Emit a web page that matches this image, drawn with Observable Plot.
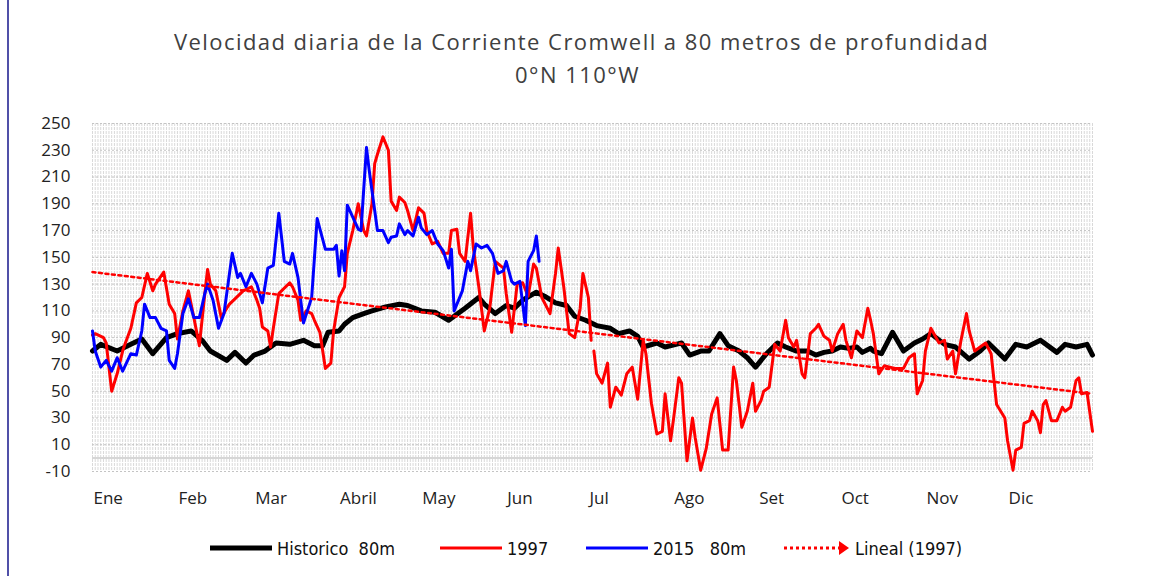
<!DOCTYPE html>
<html>
<head>
<meta charset="utf-8">
<script src="https://cdn.jsdelivr.net/npm/d3@7"></script>
<script src="https://cdn.jsdelivr.net/npm/@observablehq/plot@0.6"></script>
<style>
  html, body { margin: 0; padding: 0; background: #fff; }
  #wrap { position: relative; width: 1155px; height: 576px; overflow: hidden; background: #fff; }
  #border { position: absolute; left: 7px; top: 0; width: 2px; height: 576px; background: #5050a8; }
  .title { position: absolute; left: 0; width: 1155px; text-align: center; font-family: "Open Sans", sans-serif;
           font-size: 22px; color: #404040; letter-spacing: 1.45px; line-height: 1; }
  #chart { position: absolute; left: 0; top: 95px; }
  .leg { position: absolute; top: 536px; height: 24px; display: flex; align-items: center;
         font-family: "Liberation Sans Narrow", "DejaVu Sans Condensed", sans-serif; font-size: 18px; color: #111; white-space: pre; }
  .leg svg { margin-right: 5px; }
</style>
</head>
<body>
<div id="wrap">
  <div id="border"></div>
  <div class="title" style="top:30px;left:4px">Velocidad diaria de la Corriente Cromwell a 80 metros de profundidad</div>
  <div class="title" style="top:63px">0°N 110°W</div>
  <div id="chart"></div>
  <div id="legend"></div>
</div>
<script>
// ---- axis labels ----
const months = ["Ene","Feb","Mar","Abril","May","Jun","Jul","Ago","Set","Oct","Nov","Dic"];
const monthStarts = [0,31,59,90,120,151,181,212,243,273,304,334];
const yTicks = [-10,10,30,50,70,90,110,130,150,170,190,210,230,250];

// ---- Historico 80m (day of year, cm/s) ----
const histDays = [0,3,9,14,18,22,27,31,36,40,43,49,52,56,59,63,67,72,77,81,84,86,90,92,95,99,102,107,112,115,120,125,130,132,136,141,143,147,151,154,157,162,165,169,173,176,180,184,189,192,196,199,201,206,209,213,215,218,222,225,229,232,236,239,242,246,250,253,257,261,264,267,270,273,276,279,281,284,285,288,292,296,300,303,306,311,315,320,324,327,330,333,337,341,346,352,355,359,363,365];
const histValues = [80,85,80,85,89,78,90,93,95,88,80,73,79,71,77,80,86,85,88,84,84,94,95,100,105,108,110,113,115,114,110,109,103,106,112,120,115,108,114,112,118,124,121,116,114,106,103,99,97,93,95,91,83,86,83,85,86,77,80,80,93,84,80,75,68,78,86,83,80,80,77,79,80,83,82,83,79,82,80,78,94,80,86,89,93,85,83,74,80,86,80,74,85,83,88,79,85,83,85,77];

// ---- 1997 ----
const y1997Days = [0,1,4,5,7,9,11,12,14,16,18,20,22,23,26,28,30,31,33,35,37,39,41,42,43,45,47,49,50,52,55,58,60,61,62,64,65,66,68,69,72,73,75,76,78,80,81,83,85,87,88,90,92,93,95,97,99,100,102,103,104,106,108,109,111,112,114,115,117,119,121,122,124,126,128,130,131,133,134,136,138,139,141,143,145,147,150,151,153,155,157,159,161,162,164,167,169,170,172,174,176,178,179,181,182,182.5,183,184,186,188,189,191,193,195,197,199,201,202,204,206,208,209,211,212,214,215,217,219,220,222,224,226,228,230,232,234,235,237,239,241,242,244,245,247,249,251,253,254,256,257,259,260,262,264,265,267,269,270,272,274,275,277,279,281,283,284,285,287,289,291,293,296,298,300,301,303,304,306,309,311,312,314,315,317,319,320,322,324,326,328,330,333,334,336,337,339,340,342,343,345,346,347,348,350,352,354,355,357,359,360,361,363,365];
const y1997Values = [92,93,90,86,50,63,80,86,97,116,120,138,125,130,139,115,108,89,110,125,105,84,123,141,130,125,105,112,115,119,125,128,118,112,98,95,83,97,123,125,131,128,118,103,110,108,103,94,67,71,95,120,128,153,170,190,170,166,190,220,227,240,230,192,185,195,191,185,170,187,183,170,160,162,153,153,170,171,153,147,183,157,128,95,112,147,142,123,94,130,131,121,145,142,120,108,138,157,128,93,90,112,138,120,88,null,80,63,56,71,38,53,47,63,68,44,88,78,41,18,20,48,13,28,60,56,-2,30,15,-9,7,33,45,6,6,68,58,23,35,56,35,43,50,53,85,80,103,90,83,88,63,60,93,97,100,91,88,80,93,100,88,75,95,90,112,103,93,63,69,68,67,67,75,78,48,58,80,97,86,88,74,80,63,88,108,95,80,83,86,78,40,30,13,-9,6,8,26,28,35,28,19,40,43,28,28,38,35,38,58,60,48,49,20];

// ---- 2015 80m ----
const y2015Days = [0,1,3,5,7,9,11,14,16,18,19,21,23,25,27,28,30,31,33,35,37,39,41,42,44,46,48,49,51,53,54,56,58,60,62,64,66,68,70,72,73,75,77,80,82,85,88,89,90,91,92,93,95,97,98,100,101,103,104,106,108,109,111,112,114,115,117,119,120,122,124,126,128,130,131,132,135,137,138,140,142,144,146,148,150,151,153,154,156,158,159,161,162,163];
const y2015Values = [95,80,68,73,65,75,65,78,77,95,115,105,105,97,95,73,67,78,108,119,105,105,123,130,118,97,108,123,153,135,138,128,138,130,116,142,144,183,147,145,153,135,101,120,179,156,156,159,136,155,140,189,180,171,170,232,215,185,170,170,161,165,166,175,167,170,166,180,172,167,170,160,155,142,156,110,125,147,140,160,157,159,153,138,140,147,132,130,132,99,147,155,166,147];

// ---- Lineal (1997) trend ends ----
const trendDays = [0, 365];
const trendValues = [139, 48];

const toRows = (days, vals) => days.map((d, i) => ({day: d, v: vals[i]}));
const hist = toRows(histDays, histValues);
const s1997 = toRows(y1997Days, y1997Values);
const s2015 = toRows(y2015Days, y2015Values);
const trend = toRows(trendDays, trendValues);

const chart = Plot.plot({
  width: 1155,
  height: 425,
  marginLeft: 92,
  marginRight: 63,
  marginTop: 28,
  marginBottom: 49,
  style: {fontFamily: "'Open Sans', sans-serif", color: "#222", background: "transparent", overflow: "visible"},
  x: {domain: [0, 365]},
  y: {domain: [-10, 250]},
  marks: [
    Plot.gridX(d3.range(0, 366), {stroke: "#d9d9d9", strokeOpacity: 1, strokeDasharray: "3,1"}),
    Plot.gridY(yTicks, {stroke: "#c4c4c4", strokeOpacity: 1, strokeDasharray: "2,2"}),
    Plot.ruleY([0], {stroke: "#d6d6d6", strokeWidth: 2}),
    Plot.axisY(yTicks, {tickSize: 0, tickPadding: 22, fontSize: 17, tickFormat: d => String(d), label: null}),
    Plot.axisX(monthStarts, {tickSize: 0, tickPadding: 20, fontSize: 17, textAnchor: "start", dx: 1,
                             tickFormat: d => months[monthStarts.indexOf(d)], label: null}),
    Plot.line(hist, {x: "day", y: "v", stroke: "#000", strokeWidth: 5, strokeLinejoin: "round"}),
    Plot.line(s1997, {x: "day", y: "v", stroke: "#ff0000", strokeWidth: 3, strokeLinejoin: "round"}),
    Plot.line(s2015, {x: "day", y: "v", stroke: "#0000ff", strokeWidth: 3, strokeLinejoin: "round"}),
    Plot.line(trend, {x: "day", y: "v", stroke: "#ff0000", strokeWidth: 2.5, strokeDasharray: "3,3.5"})
  ]
});
document.getElementById("chart").appendChild(chart);

// ---- legend ----
const legendItems = [
  {label: "Historico  80m", color: "#000", width: 5, dash: null, left: 210},
  {label: "1997", color: "#ff0000", width: 3, dash: null, left: 440},
  {label: "2015   80m", color: "#0000ff", width: 3, dash: null, left: 586},
  {label: "Lineal (1997)", color: "#ff0000", width: 3, dash: "3,3", left: 784, arrow: true}
];
const legend = document.getElementById("legend");
for (const it of legendItems) {
  const div = document.createElement("div");
  div.className = "leg";
  div.style.left = it.left + "px";
  const w = it.arrow ? 66 : 62;
  const ns = "http://www.w3.org/2000/svg";
  const svg = document.createElementNS(ns, "svg");
  svg.setAttribute("width", w); svg.setAttribute("height", 20);
  const ln = document.createElementNS(ns, "line");
  ln.setAttribute("x1", 0); ln.setAttribute("x2", it.arrow ? 55 : w);
  ln.setAttribute("y1", 10); ln.setAttribute("y2", 10);
  ln.setAttribute("stroke", it.color); ln.setAttribute("stroke-width", it.width);
  if (!it.dash) ln.setAttribute("stroke-linecap", "round");
  if (it.dash) ln.setAttribute("stroke-dasharray", it.dash);
  svg.appendChild(ln);
  if (it.arrow) {
    const p = document.createElementNS(ns, "path");
    p.setAttribute("d", "M55,3 L65,10 L55,17 Z");
    p.setAttribute("fill", it.color);
    svg.appendChild(p);
  }
  div.appendChild(svg);
  const sp = document.createElement("span");
  sp.textContent = it.label;
  div.appendChild(sp);
  legend.appendChild(div);
}
</script>
</body>
</html>
